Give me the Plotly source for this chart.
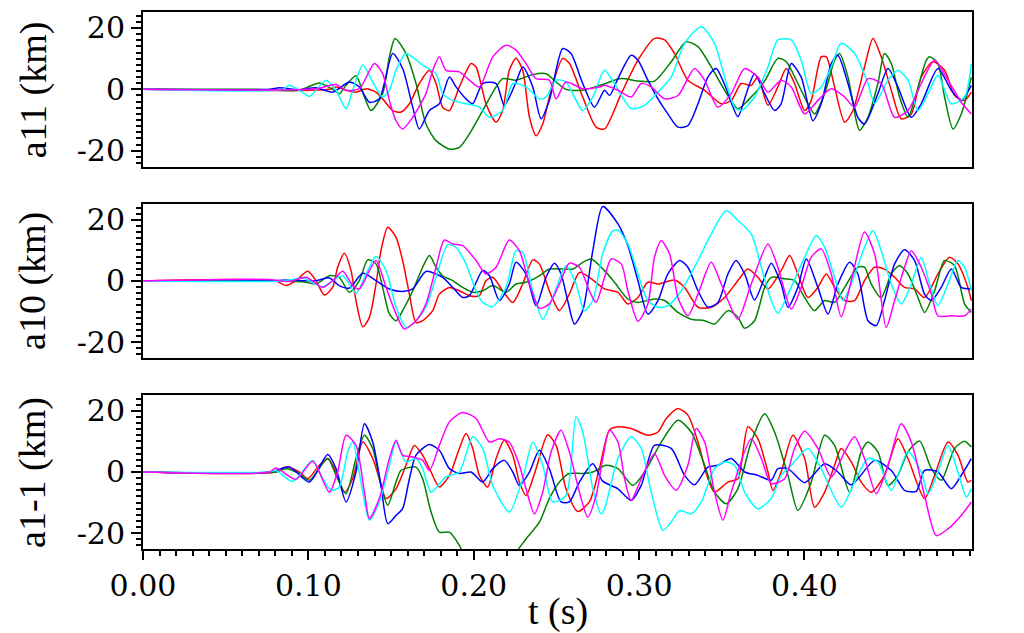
import plotly.graph_objects as go

# ---------------- data (t in s, values in km) ----------------
A11_RED_T = [0, 0.1127, 0.1167, 0.1228, 0.1288, 0.1349, 0.1409, 0.1449, 0.1510, 0.1560,
             0.1611, 0.1671, 0.1732, 0.1772, 0.1812, 0.1853, 0.1913, 0.1984, 0.2014, 0.2074,
             0.2135, 0.2175, 0.2215, 0.2256, 0.2296, 0.2337, 0.2377, 0.2417, 0.2468, 0.2538,
             0.2579, 0.2659, 0.2740, 0.2791, 0.2892, 0.2993, 0.3093, 0.3154, 0.3214, 0.3295,
             0.3396, 0.3497, 0.3557, 0.3618, 0.3678, 0.3718, 0.3779, 0.3839, 0.3890, 0.3940,
             0.4001, 0.4041, 0.4101, 0.4132, 0.4182, 0.4243, 0.4293, 0.4363, 0.4414, 0.4464,
             0.4525, 0.4585, 0.4646, 0.4706, 0.4777, 0.4847, 0.4908, 0.4968, 0.5009]
A11_RED_V = [0, 0, 0.8, -0.3, -0.9, 0.2, -0.9, -3.1, -6.9, -7.4,
             -4.7, 1.9, 6.2, 1.9, -5.8, -6.9, 0.8, 8.4, 7.3, -4.7,
             -10.7, -6.9, 6.2, 10.1, 6.2, -9.1, -15.1, -11.3, -0.3, 10.1,
             8.4, -2.5, -12.3, -12.9, -1.4, 9.5, 16.6, 16.1, 11.7, 3.0,
             -0.3, -4.7, -3.6, 1.9, 1.3, 4.0, -5.2, 0.8, 6.8, 1.9,
             -6.9, -3.6, 10.6, 10.6, 0.8, -10.7, -6.9, 7.3, 16.6, 10.6,
             -0.3, -9.6, -8.0, 4.0, 9.0, 6.2, -2.0, -3.6, -0.9]

A11_GREEN_T = [0, 0.0683, 0.0945, 0.1066, 0.1147, 0.1187, 0.1228, 0.1288, 0.1339, 0.1379,
               0.1449, 0.1490, 0.1524, 0.1590, 0.1651, 0.1711, 0.1772, 0.1853, 0.1913, 0.1974,
               0.2054, 0.2135, 0.2175, 0.2256, 0.2357, 0.2437, 0.2498, 0.2558, 0.2659, 0.2780,
               0.2892, 0.2993, 0.3093, 0.3194, 0.3285, 0.3356, 0.3436, 0.3517, 0.3597, 0.3658,
               0.3759, 0.3839, 0.3890, 0.3960, 0.4021, 0.4061, 0.4122, 0.4182, 0.4212, 0.4263,
               0.4313, 0.4333, 0.4384, 0.4444, 0.4484, 0.4525, 0.4575, 0.4626, 0.4676, 0.4737,
               0.4757, 0.4807, 0.4847, 0.4898, 0.4948, 0.5009]
A11_GREEN_V = [0, 0, -0.3, 2.1, 0, -1.4, 1.3, 4.4, -2.5, -6.9,
               -1.4, 10.6, 16.6, 11.7, 1.9, -11.3, -16.7, -19.5, -18.9, -14.5,
               -6.9, 0.8, 3.5, 3.0, 4.8, 5.1, 2.4, 0, -0.3, 1.6,
               3.5, 2.7, 2.7, 9.0, 15.5, 13.9, 7.3, -0.3, -6.3, -3.6,
               2.7, 10.1, 9.0, 1.9, -4.7, -8.0, -1.4, 9.5, 11.7, 4.0,
               -10.2, -13.4, -9.1, 1.9, 11.7, 8.4, -2.5, -9.1, -1.4, 9.5,
               10.6, 8.4, -2.5, -12.9, -8.0, 4.0]

A11_BLUE_T = [0, 0.0764, 0.0824, 0.0945, 0.1046, 0.1147, 0.1248, 0.1308, 0.1369, 0.1429,
              0.1510, 0.1570, 0.1631, 0.1671, 0.1732, 0.1792, 0.1853, 0.1893, 0.1953, 0.1994,
              0.2054, 0.2135, 0.2185, 0.2256, 0.2296, 0.2357, 0.2407, 0.2457, 0.2538, 0.2588,
              0.2659, 0.2730, 0.2791, 0.2821, 0.2872, 0.2952, 0.2993, 0.3053, 0.3114, 0.3174,
              0.3235, 0.3295, 0.3356, 0.3416, 0.3466, 0.3527, 0.3597, 0.3648, 0.3698, 0.3759,
              0.3819, 0.3859, 0.3920, 0.3980, 0.4051, 0.4101, 0.4162, 0.4202, 0.4263, 0.4323,
              0.4363, 0.4444, 0.4505, 0.4565, 0.4646, 0.4706, 0.4807, 0.4888, 0.4948, 0.5009]
A11_BLUE_V = [0, 0, 0.5, -0.1, 0.5, -0.9, 2.4, 0.8, -4.2, -3.1,
              11.7, 6.8, -5.8, -12.9, -6.9, -4.7, 4.0, 0.8, -3.1, -4.7,
              1.9, 1.9, -5.2, 2.4, 7.3, 0.8, -9.6, -3.6, 13.3, 11.7,
              1.9, -5.8, -0.3, -2.0, 3.5, 11.1, 9.5, 3.0, -3.1, -8.0,
              -12.3, -11.8, -4.7, 4.0, 6.8, 0.2, -8.9, -1.4, 5.1, -1.4,
              -6.9, -4.7, 8.4, 4.0, -10.2, -4.7, 8.4, 11.1, 1.9, -9.1,
              -11.3, -1.4, 6.8, 0.8, -9.1, -4.7, 6.8, -0.3, -3.6, 1.3]

A11_CYAN_T = [0, 0.0845, 0.0885, 0.0945, 0.1006, 0.1107, 0.1167, 0.1228, 0.1268, 0.1329,
              0.1389, 0.1449, 0.1490, 0.1530, 0.1590, 0.1691, 0.1772, 0.1812, 0.1873, 0.1953,
              0.2034, 0.2095, 0.2175, 0.2236, 0.2316, 0.2397, 0.2437, 0.2498, 0.2558, 0.2659,
              0.2720, 0.2791, 0.2851, 0.2952, 0.3033, 0.3114, 0.3194, 0.3275, 0.3376, 0.3456,
              0.3517, 0.3577, 0.3618, 0.3698, 0.3779, 0.3839, 0.3920, 0.3980, 0.4041, 0.4101,
              0.4162, 0.4222, 0.4303, 0.4384, 0.4424, 0.4505, 0.4565, 0.4626, 0.4686, 0.4747,
              0.4807, 0.4888, 0.4968, 0.5009]
A11_CYAN_V = [0, 0, 1.3, -0.3, -2.3, 3.0, -0.3, -6.3, -0.3, 7.9,
              2.4, -2.5, -0.3, 6.2, 11.7, 7.9, 5.1, -1.4, -3.6, -4.7,
              -5.8, -9.1, -6.9, 1.9, 0.8, -3.1, -2.5, 3.0, 2.4, -6.9,
              -2.5, 6.2, 1.9, -6.3, -5.2, -0.9, 4.0, 15.0, 20.4, 15.0,
              4.0, -5.8, -6.9, -2.5, 7.3, 16.1, 16.1, 9.5, -1.4, 0.8,
              7.3, 15.0, 11.7, 1.9, -4.7, 3.0, 6.2, 3.0, -6.9, -1.4,
              4.6, -4.7, -2.5, 8.4]

A11_MAGENTA_T = [0, 0.1046, 0.1167, 0.1228, 0.1308, 0.1399, 0.1449, 0.1490, 0.1530, 0.1570,
                 0.1631, 0.1711, 0.1752, 0.1792, 0.1832, 0.1913, 0.1974, 0.2034, 0.2115, 0.2195,
                 0.2256, 0.2316, 0.2377, 0.2457, 0.2498, 0.2558, 0.2659, 0.2760, 0.2791, 0.2872,
                 0.2952, 0.3013, 0.3073, 0.3154, 0.3235, 0.3335, 0.3396, 0.3476, 0.3557, 0.3638,
                 0.3718, 0.3779, 0.3859, 0.3920, 0.4001, 0.4081, 0.4162, 0.4243, 0.4303, 0.4384,
                 0.4464, 0.4545, 0.4626, 0.4706, 0.4787, 0.4868, 0.4948, 0.5009]
A11_MAGENTA_V = [0, 0.2, 1.6, -0.3, 0.2, 8.4, 5.1, -3.6, -10.2, -12.9,
                 -9.1, -1.4, 6.2, 10.6, 6.2, 5.7, 3.0, 0.8, 10.6, 14.4,
                 12.8, 8.4, 3.5, 3.0, -3.1, 2.4, 0.2, 0.8, 1.3, -0.3,
                 -2.5, 1.9, 0.8, -3.1, -2.0, 6.8, 3.0, -5.8, -1.4, 6.8,
                 4.0, -0.9, 3.0, 0.8, -8.0, -3.6, 0.2, -2.5, -5.8, 3.5,
                 1.9, -9.1, -6.9, 1.9, 9.5, 3.0, -4.2, -8.0]

A10_RED_T = [0, 0.0804, 0.0865, 0.0925, 0.0996, 0.1046, 0.1097, 0.1147, 0.1177, 0.1218,
             0.1258, 0.1288, 0.1329, 0.1369, 0.1409, 0.1439, 0.1480, 0.1530, 0.1570, 0.1611,
             0.1651, 0.1691, 0.1752, 0.1792, 0.1853, 0.1913, 0.1974, 0.2034, 0.2074, 0.2115,
             0.2175, 0.2236, 0.2296, 0.2357, 0.2397, 0.2457, 0.2518, 0.2578, 0.2639, 0.2699,
             0.2791, 0.2872, 0.2932, 0.2993, 0.3053, 0.3114, 0.3214, 0.3275, 0.3356, 0.3436,
             0.3517, 0.3597, 0.3658, 0.3718, 0.3779, 0.3859, 0.3910, 0.3960, 0.4021, 0.4081,
             0.4132, 0.4182, 0.4243, 0.4303, 0.4363, 0.4424, 0.4484, 0.4545, 0.4605, 0.4666,
             0.4726, 0.4807, 0.4877, 0.4928, 0.4988, 0.5009]
A10_RED_V = [0, 0, -1.5, 0.1, 3.2, 0.1, -4.6, -2.1, 4.5, 9.1,
             3.4, -6.4, -15.0, -11.9, -1.0, 9.9, 17.6, 14.3, 6.7, -4.3,
             -13.6, -13.0, -9.7, -4.3, -2.1, -3.2, -4.8, -4.8, 0.1, 1.2,
             -3.2, -7.0, -1.0, 6.9, 5.6, -3.2, -9.7, -4.3, 2.8, 1.2,
             -2.6, -3.7, -7.5, -5.4, -0.4, -1.0, 0.3, -2.1, -8.6, -8.6,
             -5.4, 0.1, 3.9, 1.2, -2.6, 3.4, 8.3, 2.3, -5.4, -2.1,
             2.3, -2.1, -6.4, -6.4, 0.1, 4.5, 3.9, 1.2, -2.1, -2.6,
             -5.4, 2.3, 7.8, 5.6, -2.1, -6.4]

A10_GREEN_T = [0, 0.0845, 0.0986, 0.1046, 0.1127, 0.1187, 0.1248, 0.1308, 0.1359, 0.1409,
               0.1449, 0.1490, 0.1530, 0.1570, 0.1631, 0.1691, 0.1732, 0.1772, 0.1812, 0.1873,
               0.1933, 0.1994, 0.2054, 0.2115, 0.2195, 0.2256, 0.2316, 0.2397, 0.2457, 0.2538,
               0.2599, 0.2659, 0.2710, 0.2791, 0.2851, 0.2932, 0.2993, 0.3093, 0.3154, 0.3235,
               0.3315, 0.3396, 0.3456, 0.3537, 0.3597, 0.3638, 0.3698, 0.3759, 0.3799, 0.3880,
               0.3940, 0.4001, 0.4061, 0.4122, 0.4182, 0.4243, 0.4323, 0.4363, 0.4404, 0.4464,
               0.4525, 0.4575, 0.4626, 0.4686, 0.4726, 0.4787, 0.4847, 0.4908, 0.4968, 0.5009]
A10_GREEN_V = [0, 0, -0.4, -1.0, 1.7, 1.2, -3.7, 0.1, 6.9, 5.6,
               -2.1, -10.8, -13.0, -9.7, -3.2, 4.5, 8.3, 4.5, 1.7, 0.1,
               -2.1, -3.7, -3.2, -1.5, -3.7, -1.0, -0.4, 1.7, 3.9, 3.9,
               3.9, 6.1, 7.2, 3.4, -0.4, -5.9, -7.0, -5.9, -6.4, -10.3,
               -12.5, -13.0, -14.1, -9.7, -11.9, -15.5, -13.0, -2.1, 1.2, 0.7,
               0.1, -5.4, -9.7, -6.4, -7.0, -2.1, 4.5, 4.5, -1.0, -5.4,
               2.3, 5.0, 2.3, -5.4, -10.3, -3.2, 6.7, 5.0, -7.5, -10.3]

A10_BLUE_T = [0, 0.0744, 0.0885, 0.1046, 0.1127, 0.1187, 0.1248, 0.1329, 0.1409, 0.1490,
              0.1570, 0.1631, 0.1711, 0.1812, 0.1873, 0.1933, 0.1974, 0.2054, 0.2095, 0.2155,
              0.2215, 0.2256, 0.2316, 0.2377, 0.2437, 0.2488, 0.2528, 0.2568, 0.2609, 0.2659,
              0.2720, 0.2780, 0.2872, 0.2932, 0.2993, 0.3053, 0.3114, 0.3174, 0.3245, 0.3295,
              0.3356, 0.3416, 0.3477, 0.3537, 0.3587, 0.3638, 0.3698, 0.3759, 0.3799, 0.3859,
              0.3900, 0.3960, 0.4011, 0.4081, 0.4142, 0.4202, 0.4273, 0.4323, 0.4384, 0.4434,
              0.4484, 0.4545, 0.4605, 0.4666, 0.4726, 0.4767, 0.4827, 0.4888, 0.4948, 0.5009]
A10_BLUE_V = [0, 0, 0.3, 0.1, 1.0, -1.5, -2.3, 2.5, 0.1, -2.6,
              -3.4, -2.6, 3.1, 1.2, -2.1, -5.4, -4.8, 3.4, 1.7, -6.4,
              -1.0, 6.1, 2.3, -8.1, 1.2, 5.8, 2.3, -6.4, -14.1, -9.7,
              9.9, 24.4, 18.7, 11.6, 0.1, -10.8, -6.4, 2.3, 6.7, 4.5,
              -3.2, -8.6, -7.0, 2.3, 6.7, 2.3, -6.2, 1.2, 5.8, -1.0,
              -8.6, -2.1, 7.2, -2.1, -10.8, -1.0, 6.1, 2.3, -13.0, -14.6,
              -6.4, 5.6, 10.2, 6.7, -4.3, -6.4, -2.1, 3.9, -2.1, -2.6]

A10_CYAN_T = [0, 0.0845, 0.0966, 0.1087, 0.1147, 0.1208, 0.1288, 0.1349, 0.1409, 0.1470,
              0.1530, 0.1591, 0.1651, 0.1711, 0.1772, 0.1843, 0.1893, 0.1953, 0.2014, 0.2054,
              0.2115, 0.2195, 0.2256, 0.2296, 0.2357, 0.2417, 0.2478, 0.2558, 0.2619, 0.2669,
              0.2720, 0.2780, 0.2840, 0.2872, 0.2932, 0.2993, 0.3053, 0.3114, 0.3174, 0.3255,
              0.3356, 0.3436, 0.3527, 0.3597, 0.3678, 0.3739, 0.3799, 0.3839, 0.3900, 0.4001,
              0.4071, 0.4122, 0.4182, 0.4232, 0.4283, 0.4363, 0.4414, 0.4464, 0.4525, 0.4585,
              0.4646, 0.4706, 0.4757, 0.4807, 0.4868, 0.4928, 0.4968, 0.5009]
A10_CYAN_V = [0, 0, 0.9, -1.9, 0.1, 1.7, -4.0, 2.3, 8.0, 3.4,
              -8.6, -15.2, -13.0, -8.6, 1.2, 11.9, 11.0, 5.6, -3.2, -7.0,
              -8.4, -2.1, 9.9, 9.4, -3.2, -12.5, -5.4, 5.0, -1.0, -9.7,
              -6.4, 8.9, 16.3, 16.7, 12.1, 2.3, -6.4, -8.6, -8.1, -3.2,
              6.7, 15.4, 23.1, 19.8, 15.4, 4.5, -6.4, -10.6, -4.3, 7.8,
              14.9, 11.0, 1.2, -6.4, -1.0, 11.0, 16.5, 9.9, -1.0, -7.5,
              -1.0, 7.8, -1.0, -8.1, -1.0, 6.7, 4.5, -3.2]

A10_MAGENTA_T = [0, 0.0764, 0.0885, 0.0986, 0.1087, 0.1147, 0.1208, 0.1268, 0.1308, 0.1369,
                 0.1409, 0.1470, 0.1530, 0.1580, 0.1651, 0.1711, 0.1772, 0.1822, 0.1873, 0.1933,
                 0.2014, 0.2074, 0.2135, 0.2215, 0.2276, 0.2337, 0.2397, 0.2457, 0.2518, 0.2578,
                 0.2639, 0.2699, 0.2740, 0.2791, 0.2831, 0.2892, 0.2932, 0.2993, 0.3053, 0.3093,
                 0.3134, 0.3184, 0.3235, 0.3295, 0.3356, 0.3436, 0.3497, 0.3597, 0.3678, 0.3779,
                 0.3839, 0.3920, 0.3980, 0.4041, 0.4101, 0.4162, 0.4222, 0.4283, 0.4363, 0.4424,
                 0.4494, 0.4545, 0.4605, 0.4646, 0.4706, 0.4767, 0.4807, 0.4888, 0.4968, 0.5009]
A10_MAGENTA_V = [0, 0.5, -0.2, 1.2, -2.1, 0.1, 3.2, -1.5, -2.6, 3.4,
                 6.7, -2.1, -10.8, -15.7, -13.0, -7.5, 4.5, 13.4, 12.1, 11.6,
                 6.7, 2.3, 4.5, 13.4, 9.9, -1.0, -8.9, -7.5, -1.0, 5.8,
                 4.5, -3.2, -7.0, 1.2, 7.2, 5.6, -3.2, -13.2, -7.5, 7.8,
                 13.2, 8.9, -5.4, -11.4, -4.3, 6.1, -1.0, -12.5, -1.0, 12.1,
                 4.5, -9.2, -2.1, 7.8, 10.5, 2.3, -11.7, 0.1, 16.0, 8.9,
                 -15.2, -6.4, 4.5, 9.9, 4.5, -4.3, -11.4, -11.4, -11.4, -9.2]

A1M1_RED_T = [0, 0.0804, 0.0865, 0.0945, 0.0996, 0.1066, 0.1117, 0.1167, 0.1218, 0.1268,
              0.1329, 0.1389, 0.1429, 0.1470, 0.1530, 0.1590, 0.1641, 0.1691, 0.1742, 0.1792,
              0.1853, 0.1913, 0.1953, 0.1994, 0.2034, 0.2084, 0.2135, 0.2185, 0.2236, 0.2276,
              0.2316, 0.2377, 0.2447, 0.2498, 0.2558, 0.2629, 0.2699, 0.2760, 0.2820, 0.2872,
              0.2952, 0.3053, 0.3114, 0.3164, 0.3235, 0.3295, 0.3356, 0.3416, 0.3456, 0.3537,
              0.3597, 0.3658, 0.3718, 0.3779, 0.3809, 0.3859, 0.3930, 0.4001, 0.4061, 0.4122,
              0.4182, 0.4222, 0.4283, 0.4343, 0.4404, 0.4484, 0.4565, 0.4626, 0.4726, 0.4787,
              0.4868, 0.4928, 0.4988, 0.5009]
A1M1_RED_V = [0, 0, 1.6, 0, -2.2, 2.2, 4.4, 0, -6.6, -2.2,
              9.8, 4.4, -2.2, -8.7, -5.5, 2.2, 8.7, 5.5, 0, -4.9,
              -1.1, 7.7, 12.6, 7.7, -1.1, -4.9, 4.4, 10.4, 5.5, -3.3,
              -7.7, 1.1, 12.2, 8.7, -5.5, -12.9, -9.8, 1.1, 13.7, 14.8,
              14.2, 12.0, 13.1, 17.5, 20.8, 18.6, 9.8, -2.2, -6.6, -3.3,
              -2.2, 14.8, 10.9, 0, -6.0, 0, 12.0, 4.4, -11.5, -6.6,
              2.2, 7.7, 3.3, -3.3, -6.6, -1.1, 10.9, 4.4, -8.7, -1.1,
              9.8, 5.5, -3.3, -2.7]

A1M1_GREEN_T = [0, 0.0804, 0.0865, 0.0945, 0.1006, 0.1117, 0.1167, 0.1228, 0.1288, 0.1339,
                0.1389, 0.1439, 0.1480, 0.1530, 0.1560, 0.1651, 0.1691, 0.1742, 0.1792, 0.1853,
                0.1913, 0.1974, 0.2115, 0.2256, 0.2316, 0.2397, 0.2457, 0.2518, 0.2578, 0.2659,
                0.2720, 0.2800, 0.2872, 0.2962, 0.3033, 0.3134, 0.3235, 0.3315, 0.3396, 0.3456,
                0.3527, 0.3597, 0.3678, 0.3759, 0.3819, 0.3900, 0.3960, 0.4041, 0.4122, 0.4182,
                0.4273, 0.4343, 0.4384, 0.4444, 0.4505, 0.4565, 0.4626, 0.4696, 0.4767, 0.4827,
                0.4908, 0.4968, 0.5009]
A1M1_GREEN_V = [0, 0, 1.1, -0.5, -2.7, 4.4, -1.1, -7.1, 4.4, 12.0,
                7.7, -4.4, -10.9, -3.3, 0.5, 1.6, -2.2, -13.1, -19.7, -19.7,
                -24.0, -30.6, -34.0, -26.2, -21.9, -16.4, -8.7, -3.3, -0.5, -0.5,
                0, 2.2, 1.1, -4.4, 0, 9.8, 16.9, 13.1, 2.2, -6.6,
                -10.4, -5.5, 9.8, 19.1, 13.1, -1.1, -12.6, -3.3, 12.0, 8.7,
                -6.6, 6.6, 9.8, 6.6, -4.4, -1.1, 6.6, 10.1, 1.1, -2.7,
                7.7, 10.1, 8.2]

A1M1_BLUE_T = [0, 0.0764, 0.0885, 0.1006, 0.1117, 0.1167, 0.1228, 0.1288, 0.1339, 0.1389,
               0.1439, 0.1480, 0.1530, 0.1570, 0.1611, 0.1651, 0.1732, 0.1792, 0.1853, 0.1913,
               0.1984, 0.2054, 0.2115, 0.2185, 0.2236, 0.2276, 0.2337, 0.2397, 0.2457, 0.2528,
               0.2578, 0.2639, 0.2720, 0.2780, 0.2872, 0.2952, 0.3013, 0.3093, 0.3194, 0.3275,
               0.3335, 0.3416, 0.3476, 0.3557, 0.3638, 0.3718, 0.3799, 0.3839, 0.3900, 0.4001,
               0.4122, 0.4202, 0.4283, 0.4424, 0.4525, 0.4605, 0.4676, 0.4726, 0.4807, 0.4888,
               0.4948, 0.5009]
A1M1_BLUE_V = [0, 0, 1.6, -3.3, 5.7, 1.1, -9.8, 0, 15.8, 9.8,
               -4.4, -16.9, -14.2, -12.0, -2.2, 5.5, 9.0, 7.1, 1.1, -0.5,
               0, -3.3, 1.1, 3.8, 0, -4.4, 0, 7.1, 1.1, -9.8,
               -9.8, -3.3, 2.7, -3.0, -5.5, -9.3, -4.4, 8.7, 7.7, -1.1,
               -4.2, 1.6, 2.2, 4.4, 0, -1.1, -2.7, 1.1, 1.1, -3.5,
               2.7, 0, -4.2, 3.8, 0.5, -6.0, -6.3, 0.5, 0, -5.5,
               -1.1, 4.4]

A1M1_CYAN_T = [0, 0.0764, 0.0804, 0.0905, 0.1026, 0.1077, 0.1137, 0.1187, 0.1238, 0.1268,
               0.1329, 0.1369, 0.1429, 0.1490, 0.1530, 0.1590, 0.1651, 0.1691, 0.1742, 0.1832,
               0.1913, 0.1994, 0.2054, 0.2115, 0.2215, 0.2296, 0.2357, 0.2417, 0.2478, 0.2558,
               0.2619, 0.2659, 0.2720, 0.2770, 0.2791, 0.2872, 0.2952, 0.3013, 0.3073, 0.3144,
               0.3194, 0.3245, 0.3315, 0.3376, 0.3456, 0.3517, 0.3577, 0.3638, 0.3718, 0.3799,
               0.3859, 0.3920, 0.4021, 0.4101, 0.4222, 0.4303, 0.4384, 0.4444, 0.4525, 0.4626,
               0.4706, 0.4747, 0.4807, 0.4868, 0.4928, 0.4979, 0.5009]
A1M1_CYAN_V = [0, 0, 0.5, -3.1, 3.8, -1.1, -6.0, -4.9, 6.6, 9.8,
               -6.6, -15.8, -9.8, 2.2, 9.8, 3.3, 4.4, 1.1, -6.6, -1.6,
               0, 11.5, 7.7, -4.4, -13.1, -2.2, 9.8, 2.2, -9.8, -7.7,
               18.0, 13.1, -5.5, -13.7, -12.0, 4.4, 11.5, 7.7, -6.6, -19.1,
               -16.4, -12.6, -13.7, -9.8, 1.1, 3.3, 2.2, -6.6, -12.0, -8.7,
               -1.1, 2.2, 7.7, 1.1, -11.5, -3.3, 4.4, 3.3, -6.0, 6.6,
               0, -7.1, 0, 8.7, 0, -8.2, -5.5]

A1M1_MAGENTA_T = [0, 0.0764, 0.0804, 0.0925, 0.1026, 0.1127, 0.1177, 0.1228, 0.1288, 0.1339,
                  0.1369, 0.1429, 0.1490, 0.1530, 0.1570, 0.1631, 0.1691, 0.1732, 0.1792, 0.1853,
                  0.1933, 0.2014, 0.2095, 0.2155, 0.2215, 0.2276, 0.2316, 0.2367, 0.2417, 0.2468,
                  0.2528, 0.2578, 0.2639, 0.2689, 0.2740, 0.2780, 0.2821, 0.2872, 0.2912, 0.2952,
                  0.3013, 0.3093, 0.3154, 0.3224, 0.3295, 0.3345, 0.3396, 0.3456, 0.3507, 0.3557,
                  0.3678, 0.3739, 0.3799, 0.3880, 0.3940, 0.4001, 0.4081, 0.4162, 0.4243, 0.4303,
                  0.4363, 0.4434, 0.4505, 0.4585, 0.4646, 0.4726, 0.4797, 0.4868, 0.4948, 0.5009]
A1M1_MAGENTA_V = [0, 0, 1.3, -2.4, 3.5, -6.6, 0, 12.0, 8.7, -6.6,
                  -15.3, -8.7, 4.4, 10.4, 5.5, 4.9, 3.8, 0.5, 8.7, 16.4,
                  19.5, 17.5, 9.8, 10.9, 9.8, 2.2, -5.5, -13.7, -6.6, 6.6,
                  13.7, 6.6, -6.6, -14.8, -7.7, 4.4, 13.7, 9.8, -2.2, -9.3,
                  -2.2, 6.0, -1.1, -6.0, 2.2, 14.2, 9.8, -6.6, -15.8, -6.6,
                  10.9, 4.4, -3.8, -2.2, 7.7, 13.3, 7.7, -1.6, 6.6, 11.5,
                  4.4, -7.1, 2.2, 15.8, 9.8, -7.7, -20.8, -18.6, -14.2, -9.8]

PANEL_TITLES = ["a11 (km)", "a10 (km)", "a1-1 (km)"]
X_TICKS = [0.0, 0.1, 0.2, 0.3, 0.4]
X_TICK_LABELS = ["0.00", "0.10", "0.20", "0.30", "0.40"]
Y_TICKS = [-20, 0, 20]
COLORS = ["#ff0000", "#008000", "#0000ff", "#00ffff", "#ff00ff"]

PANELS = [
    [(A11_RED_T, A11_RED_V), (A11_GREEN_T, A11_GREEN_V), (A11_BLUE_T, A11_BLUE_V),
     (A11_CYAN_T, A11_CYAN_V), (A11_MAGENTA_T, A11_MAGENTA_V)],
    [(A10_RED_T, A10_RED_V), (A10_GREEN_T, A10_GREEN_V), (A10_BLUE_T, A10_BLUE_V),
     (A10_CYAN_T, A10_CYAN_V), (A10_MAGENTA_T, A10_MAGENTA_V)],
    [(A1M1_RED_T, A1M1_RED_V), (A1M1_GREEN_T, A1M1_GREEN_V), (A1M1_BLUE_T, A1M1_BLUE_V),
     (A1M1_CYAN_T, A1M1_CYAN_V), (A1M1_MAGENTA_T, A1M1_MAGENTA_V)],
]

# ---------------- figure ----------------
FONT = "DejaVu Serif"
TITLE_FONT = "Liberation Serif"
DOMAINS = [[0.7119, 1.0], [0.3557, 0.6425], [0.0, 0.2868]]

fig = go.Figure()
for p, series in enumerate(PANELS):
    xa = "x" if p == 0 else f"x{p+1}"
    ya = "y" if p == 0 else f"y{p+1}"
    for (t, v), c in zip(series, COLORS):
        fig.add_trace(go.Scatter(
            x=t, y=v, mode="lines", xaxis=xa, yaxis=ya,
            line=dict(color=c, width=1.5, shape="spline", smoothing=0.7),
            showlegend=False, hoverinfo="skip"))

layout = dict(
    width=1016, height=625,
    margin=dict(l=135, r=52, t=4, b=84, autoexpand=False),
    paper_bgcolor="white", plot_bgcolor="white",
    font=dict(family=FONT, size=30, color="black"),
    showlegend=False,
    annotations=[],
)

for p in range(3):
    xkey = "xaxis" if p == 0 else f"xaxis{p+1}"
    ykey = "yaxis" if p == 0 else f"yaxis{p+1}"
    yname = "y" if p == 0 else f"y{p+1}"
    xname = "x" if p == 0 else f"x{p+1}"
    last = (p == 2)
    xa = dict(
        domain=[0, 1], anchor=yname, range=[0, 0.5013],
        showline=True, linecolor="black", linewidth=2, mirror=True,
        showgrid=False, zeroline=False,
        tickvals=X_TICKS, ticktext=X_TICK_LABELS,
        showticklabels=last,
        ticks="outside" if last else "", ticklen=9, tickwidth=2, tickcolor="black",
        tickfont=dict(family=FONT, size=30, color="black"),
    )
    if last:
        xa["minor"] = dict(dtick=0.01, tick0=0, ticks="outside", ticklen=5,
                           tickwidth=1.5, tickcolor="black", showgrid=False)
    if p > 0:
        xa["matches"] = "x"
    layout[xkey] = xa
    layout[ykey] = dict(
        domain=DOMAINS[p], anchor=xname, range=[-25.2, 25.2],
        showline=True, linecolor="black", linewidth=2, mirror=True,
        showgrid=False, zeroline=False,
        tickvals=Y_TICKS, ticktext=[str(v) for v in Y_TICKS],
        ticks="outside", ticklen=10, tickwidth=2, tickcolor="black",
        tickfont=dict(family=FONT, size=30, color="black"),
        minor=dict(dtick=2, tick0=0, ticks="outside", ticklen=5, tickwidth=1.5,
                   tickcolor="black", showgrid=False),
    )
    mid = (DOMAINS[p][0] + DOMAINS[p][1]) / 2
    layout["annotations"].append(dict(
        text=PANEL_TITLES[p], xref="paper", yref="paper", x=-0.1327, y=mid,
        textangle=-90, showarrow=False, xanchor="center", yanchor="middle",
        font=dict(family=TITLE_FONT, size=38, color="black")))

layout["annotations"].append(dict(
    text="t (s)", xref="paper", yref="paper", x=0.5, y=-0.117,
    showarrow=False, xanchor="center", yanchor="middle",
    font=dict(family=TITLE_FONT, size=38, color="black")))

fig.update_layout(**layout)
fig.write_html("out.html")
